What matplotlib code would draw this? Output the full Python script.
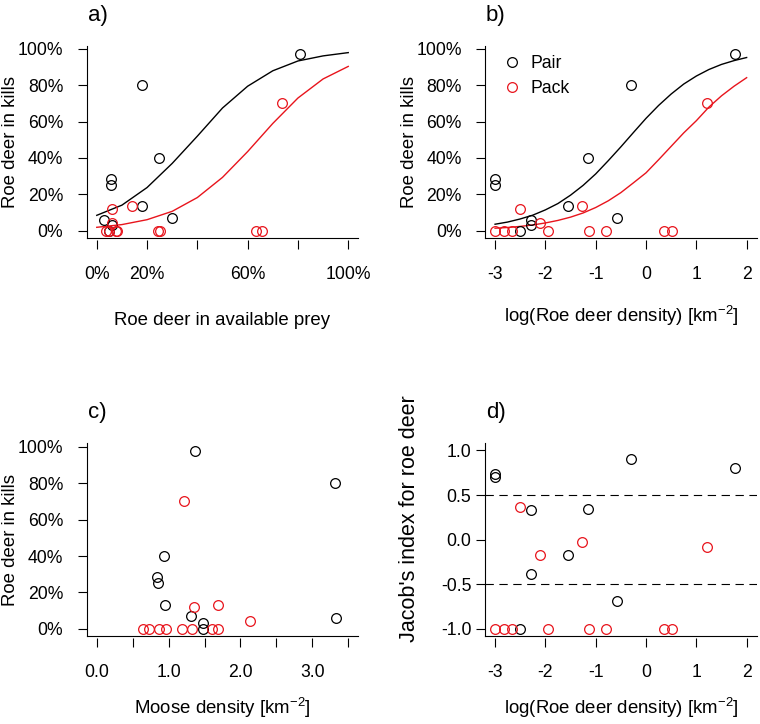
import matplotlib
matplotlib.use("Agg")
import matplotlib.pyplot as plt
from matplotlib.lines import Line2D

plt.rcParams['font.family'] = ['Liberation Sans', 'DejaVu Sans']
plt.rcParams['axes.unicode_minus'] = False
plt.rcParams['mathtext.default'] = 'regular'

# pair territories
pair_logd = [-3.0, -3.0, -2.50, -2.29, -2.29, -1.56, -1.16, -0.57, -0.30, 1.76]
pair_kill = [0.285, 0.25, 0.0, 0.058, 0.03, 0.133, 0.40, 0.071, 0.80, 0.975]
pair_avail = [0.056, 0.056, 0.047, 0.027, 0.06, 0.18, 0.248, 0.30, 0.18, 0.81]
pair_moose = [0.84, 0.85, 1.48, 3.33, 1.48, 0.95, 0.94, 1.31, 3.32, 1.37]
pair_jacob = [0.74, 0.70, -1.0, 0.33, -0.38, -0.17, 0.34, -0.69, 0.90, 0.80]

# pack territories
pack_logd = [-3.0, -2.82, -2.66, -2.50, -2.11, -1.95, -1.28, -1.13, -0.79, 0.35, 0.52, 1.22]
pack_kill = [0.0, 0.0, 0.0, 0.12, 0.042, 0.0, 0.133, 0.0, 0.0, 0.0, 0.0, 0.705]
pack_avail = [0.037, 0.048, 0.075, 0.061, 0.06, 0.08, 0.142, 0.245, 0.25, 0.632, 0.658, 0.737]
pack_moose = [0.65, 0.73, 0.87, 1.36, 2.13, 0.97, 1.69, 1.19, 1.33, 1.61, 1.69, 1.21]
pack_jacob = [-1.0, -1.0, -1.0, 0.37, -0.17, -1.0, -0.03, -1.0, -1.0, -1.0, -1.0, -0.08]

# fitted curves, panel a
fit_a_x = [0.0, 0.1, 0.2, 0.3, 0.4, 0.5, 0.6, 0.7, 0.8, 0.9, 1.0]
fit_a_pair = [0.084, 0.14, 0.237, 0.37, 0.52, 0.675, 0.795, 0.88, 0.934, 0.962, 0.98]
fit_a_pack = [0.018, 0.033, 0.06, 0.106, 0.182, 0.293, 0.435, 0.59, 0.73, 0.835, 0.904]

# fitted curves, panel b
fit_b_x = [-3.0, -2.75, -2.5, -2.25, -2.0, -1.75, -1.5, -1.25, -1.0, -0.75, -0.5,
           -0.25, 0.0, 0.25, 0.5, 0.75, 1.0, 1.25, 1.5, 1.75, 2.0]
fit_b_pair = [0.035, 0.047, 0.064, 0.085, 0.114, 0.149, 0.195, 0.249, 0.312, 0.385, 0.461,
              0.54, 0.618, 0.689, 0.752, 0.807, 0.851, 0.887, 0.915, 0.936, 0.953]
fit_b_pack = [0.013, 0.017, 0.023, 0.031, 0.042, 0.056, 0.074, 0.097, 0.127, 0.164, 0.209,
              0.263, 0.318, 0.39, 0.464, 0.538, 0.605, 0.68, 0.742, 0.795, 0.842]

pct_ticks = [0, 0.2, 0.4, 0.6, 0.8, 1.0]
pct_labels = ['0%', '20%', '40%', '60%', '80%', '100%']
a_xlabels = ['0%', '20%', '', '60%', '', '100%']
logd_ticks = [-3, -2, -1, 0, 1, 2]
moose_ticks = [0, 0.5, 1.0, 1.5, 2.0, 2.5, 3.0, 3.5]
moose_labels = ['0.0', '', '1.0', '', '2.0', '', '3.0', '']
jacob_ticks = [-1.0, -0.5, 0.0, 0.5, 1.0]
jacob_labels = ['-1.0', '-0.5', '0.0', '0.5', '1.0']

RED = '#e8141c'
TICK = 12.7
LAB = 13.4

fig = plt.figure(figsize=(7.6, 7.24), dpi=100)
W, H = 760.0, 724.0


def make_ax(left, top, right, bottom):
    return fig.add_axes([left / W, 1 - bottom / H, (right - left) / W, (bottom - top) / H])


def style(ax, ypad=10):
    ax.spines['top'].set_visible(False)
    ax.spines['right'].set_visible(False)
    ax.spines['left'].set_linewidth(0.8)
    ax.spines['bottom'].set_position(('outward', 1.5))
    ax.spines['bottom'].set_visible(False)
    ax.axhline(ax.get_ylim()[0], color='black', lw=0.8, clip_on=False)
    ax.tick_params(axis='y', direction='out', length=6.8, width=0.8, pad=ypad, labelsize=TICK)
    ax.tick_params(axis='x', direction='out', length=6.7, width=0.8, pad=12, labelsize=TICK)


def points(ax, x1, y1, x2, y2):
    ax.plot(x1, y1, 'o', mfc='none', mec='black', ms=7, mew=0.9, clip_on=False)
    ax.plot(x2, y2, 'o', mfc='none', mec=RED, ms=7, mew=0.9, clip_on=False)


def labels(ax, xl, yl, xlab_y, ylab_y=0.5, ysize=LAB):
    ax.set_xlabel(xl, fontsize=LAB)
    ax.xaxis.set_label_coords(0.5, xlab_y)
    ax.xaxis.label.set_va('baseline')
    ax.set_ylabel(yl, fontsize=ysize)
    ax.yaxis.set_label_coords(-0.279, ylab_y)
    ax.yaxis.label.set_va('center')


# a)
ax = make_ax(86.7, 45.5, 358.3, 237.7)
ax.plot(fit_a_x, fit_a_pair, color='black', lw=1)
ax.plot(fit_a_x, fit_a_pack, color=RED, lw=1)
points(ax, pair_avail, pair_kill, pack_avail, pack_kill)
ax.set_xlim(-0.04, 1.04)
ax.set_ylim(-0.0392, 1.0192)
ax.set_xticks(pct_ticks, a_xlabels)
ax.set_yticks(pct_ticks, pct_labels)
style(ax)
labels(ax, 'Roe deer in available prey', 'Roe deer in kills', -0.455)

# b)
ax = make_ax(485, 45.5, 756.7, 237.7)
ax.plot(fit_b_x, fit_b_pair, color='black', lw=1)
ax.plot(fit_b_x, fit_b_pack, color=RED, lw=1)
points(ax, pair_logd, pair_kill, pack_logd, pack_kill)
ax.set_xlim(-3.2, 2.2)
ax.set_ylim(-0.0392, 1.0192)
ax.set_xticks(logd_ticks)
ax.set_yticks(pct_ticks, pct_labels)
style(ax)
labels(ax, 'log(Roe deer density) [km$^{-2}$]', 'Roe deer in kills', -0.44)
handles = [Line2D([], [], ls='none', marker='o', mfc='none', mec='black', ms=7, mew=0.9),
           Line2D([], [], ls='none', marker='o', mfc='none', mec=RED, ms=7, mew=0.9)]
ax.legend(handles, ['Pair', 'Pack'], loc='upper left', bbox_to_anchor=(0.04, 0.985),
          frameon=False, fontsize=TICK, handlelength=1.0, handletextpad=0.55,
          labelspacing=0.42, borderaxespad=0)

# c)
ax = make_ax(86.7, 443.3, 358.3, 636)
points(ax, pair_moose, pair_kill, pack_moose, pack_kill)
ax.set_xlim(-0.14, 3.64)
ax.set_ylim(-0.0392, 1.0192)
ax.set_xticks(moose_ticks, moose_labels)
ax.set_yticks(pct_ticks, pct_labels)
style(ax)
labels(ax, 'Moose density [km$^{-2}$]', 'Roe deer in kills', -0.405)

# d)
ax = make_ax(485, 443.3, 756.7, 636)
ax.axhline(0.5, color='black', lw=0.8, dashes=(7.5, 5))
ax.axhline(-0.5, color='black', lw=0.8, dashes=(7.5, 5))
points(ax, pair_logd, pair_jacob, pack_logd, pack_jacob)
ax.set_xlim(-3.2, 2.2)
ax.set_ylim(-1.08, 1.08)
ax.set_xticks(logd_ticks)
ax.set_yticks(jacob_ticks, jacob_labels)
style(ax, ypad=3)
labels(ax, 'log(Roe deer density) [km$^{-2}$]', "Jacob's index for roe deer", -0.405,
       ylab_y=0.609, ysize=15.5)

fig.text(88 / W, 1 - 15.3 / H, 'a)', fontsize=16, va='center')
fig.text(486 / W, 1 - 15.3 / H, 'b)', fontsize=16, va='center')
fig.text(88 / W, 1 - 412.5 / H, 'c)', fontsize=16, va='center')
fig.text(486 / W, 1 - 412.5 / H, 'd)', fontsize=16, va='center')

fig.savefig('out.png', dpi=100)
